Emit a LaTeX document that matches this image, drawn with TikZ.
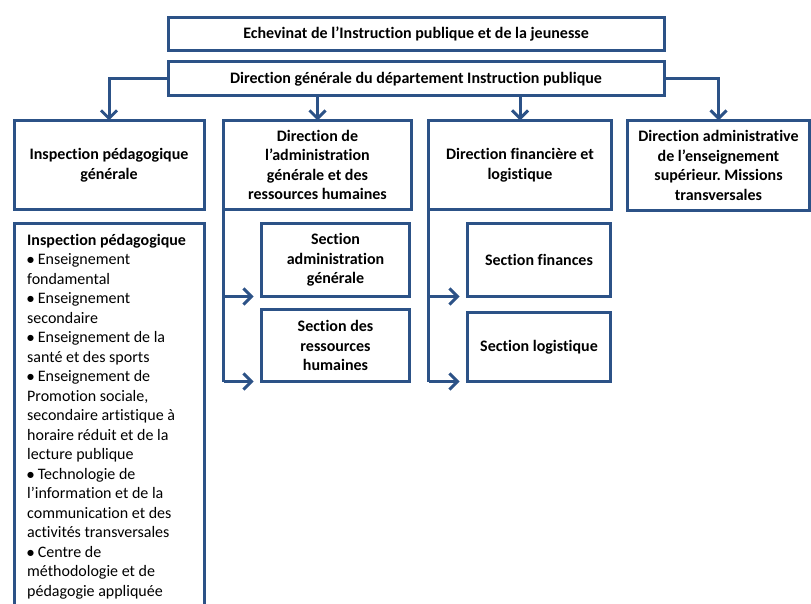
\documentclass[tikz,border=0pt]{standalone}
\usepackage{fontspec}
\setmainfont[Ligatures={NoCommon}]{Carlito}
\newfontfamily\dejavu{DejaVu Sans}
\usetikzlibrary{arrows.meta}
\definecolor{orgblue}{RGB}{44,82,135}
\frenchspacing
\tikzset{
  box/.style={draw=orgblue, line width=3pt, rectangle, inner sep=0pt, outer sep=0pt, align=center,
    font=\fontsize{16}{19.5}\selectfont\bfseries},
  conn/.style={draw=orgblue, line width=3pt, -{Straight Barb[length=8pt,width=16pt]}},
  bar/.style={draw=orgblue, line width=3pt},
  listtext/.style={anchor=north west, inner sep=0pt, align=left, font=\fontsize{16}{19.5}\selectfont}
}
\newcommand\bul{\raisebox{2.2pt}{\dejavu\fontsize{8}{8}\selectfont ●}}
\begin{document}
\begin{tikzpicture}[x=1pt,y=-1pt]
\clip (0,0) rectangle (811,604);
\node[box, minimum width=496, minimum height=33] (ech) at (416,34.5) {Echevinat de l’Instruction publique et de la jeunesse};
\node[box, minimum width=496, minimum height=34.5] (dg) at (416,78.75) {Direction générale du département Instruction publique};

\node[box, minimum width=190, minimum height=89] (ipg) at (109,165) {Inspection pédagogique\\générale};
\node[box, minimum width=188, minimum height=89] (dag) at (317.5,165) {Direction de\\l’administration\\générale et des\\ressources humaines};
\node[box, minimum width=183, minimum height=89] (dfl) at (520,165) {Direction financière et\\logistique};
\node[box, minimum width=182, minimum height=90] (daes) at (718.5,165.5) {Direction administrative\\de l’enseignement\\supérieur. Missions\\transversales};

\node[box, minimum width=148, minimum height=73] (sag) at (335.5,260) {Section\\administration\\générale};
\node[box, minimum width=148, minimum height=72] (srh) at (335.5,345.5) {Section des\\ressources\\humaines};
\node[box, minimum width=143, minimum height=73] (sf) at (539,260) {Section finances};
\node[box, minimum width=143, minimum height=69.5] (sl) at (539,346.75) {Section logistique};

\node[box, anchor=north west, minimum width=190, minimum height=420] (ipl) at (14,223.5) {};
\node[listtext] (iptext) at (27,234) {\textbf{Inspection pédagogique}\\
\bul\ Enseignement\\
fondamental\\
\bul\ Enseignement\\
secondaire\\
\bul\ Enseignement de la\\
santé et des sports\\
\bul\ Enseignement de\\
Promotion sociale,\\
secondaire artistique à\\
horaire réduit et de la\\
lecture publique\\
\bul\ Technologie de\\
l’information et de la\\
communication et des\\
activités transversales\\
\bul\ Centre de\\
méthodologie et de\\
pédagogie appliquée};

\draw[conn] (dg.west) -| (ipg.north);
\draw[conn] (dg.south -| dag.north) -- (dag.north);
\draw[conn] (dg.south -| dfl.north) -- (dfl.north);
\draw[conn] (dg.east) -| (daes.north);

\draw[bar] (dag.south west) -- (dag.south west |- srh.south);
\draw[conn, shorten >=8pt] (dag.south west |- sag.south) -- (sag.south west);
\draw[conn, shorten >=8pt] (dag.south west |- srh.south) -- (srh.south west);

\draw[bar] (dfl.south west) -- (dfl.south west |- sl.south);
\draw[conn, shorten >=8pt] (dfl.south west |- sf.south) -- (sf.south west);
\draw[conn, shorten >=8pt] (dfl.south west |- sl.south) -- (sl.south west);
\end{tikzpicture}
\end{document}
